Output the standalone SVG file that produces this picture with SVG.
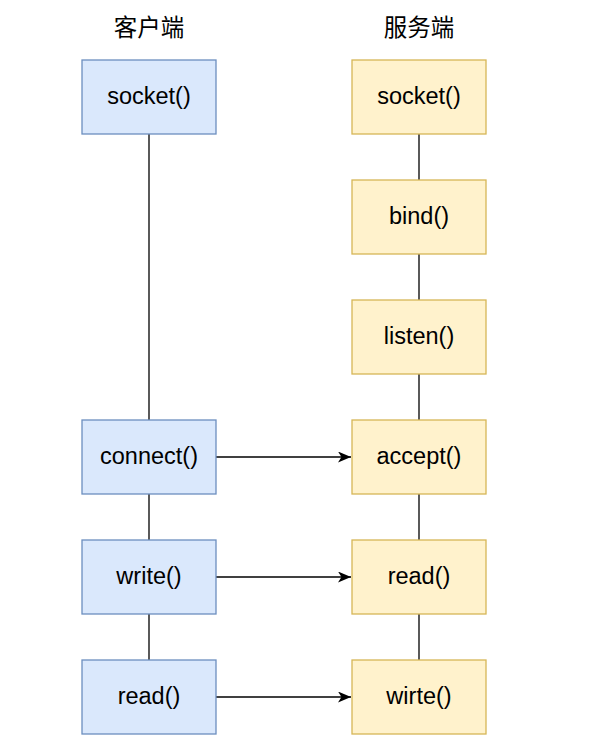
<svg xmlns="http://www.w3.org/2000/svg" width="603" height="751" viewBox="0 0 603 751">
  <style>
    .client rect { fill: #dae8fc; stroke: #6c8ebf; stroke-width: 1.3; }
    .server rect { fill: #fff2cc; stroke: #d6b656; stroke-width: 1.3; }
    text { font-family: "Liberation Sans", Arial, "Noto Sans CJK SC", sans-serif; fill: #000; text-anchor: middle; }
    .label { font-size: 23.5px; }
    .title { font-size: 23.5px; font-family: "Noto Sans CJK SC", "Liberation Sans", sans-serif; }
    .link { stroke: #000; stroke-width: 1.3; fill: none; }
  </style>
  <defs>
    <marker id="arrow" markerUnits="userSpaceOnUse" markerWidth="14" markerHeight="12" refX="13" refY="5.5" orient="auto">
      <path d="M0,0 L13,5.5 L0,11 L3.5,5.5 Z" fill="#000"/>
    </marker>
  </defs>
  <rect width="603" height="751" fill="#ffffff"/>

  <!-- column titles -->
  <text id="title-client" class="title" x="149" y="36">客户端</text>
  <text id="title-server" class="title" x="419" y="36">服务端</text>

  <!-- connectors -->
  <g id="connectors">
    <line class="link" x1="149" y1="134" x2="149" y2="420"/>
    <line class="link" x1="149" y1="494" x2="149" y2="540"/>
    <line class="link" x1="149" y1="614" x2="149" y2="660"/>
    <line class="link" x1="419" y1="134" x2="419" y2="180"/>
    <line class="link" x1="419" y1="254" x2="419" y2="300"/>
    <line class="link" x1="419" y1="374" x2="419" y2="420"/>
    <line class="link" x1="419" y1="494" x2="419" y2="540"/>
    <line class="link" x1="419" y1="614" x2="419" y2="660"/>
    <line class="link" x1="216" y1="457" x2="351" y2="457" marker-end="url(#arrow)"/>
    <line class="link" x1="216" y1="577" x2="351" y2="577" marker-end="url(#arrow)"/>
    <line class="link" x1="216" y1="697" x2="351" y2="697" marker-end="url(#arrow)"/>
  </g>

  <!-- client side -->
  <g id="c-socket" class="client">
    <rect x="82" y="60" width="134" height="74"/>
    <text class="label" x="149" y="104">socket()</text>
  </g>
  <g id="c-connect" class="client">
    <rect x="82" y="420" width="134" height="74"/>
    <text class="label" x="149" y="464">connect()</text>
  </g>
  <g id="c-write" class="client">
    <rect x="82" y="540" width="134" height="74"/>
    <text class="label" x="149" y="584">write()</text>
  </g>
  <g id="c-read" class="client">
    <rect x="82" y="660" width="134" height="74"/>
    <text class="label" x="149" y="704">read()</text>
  </g>

  <!-- server side -->
  <g id="s-socket" class="server">
    <rect x="352" y="60" width="134" height="74"/>
    <text class="label" x="419" y="104">socket()</text>
  </g>
  <g id="s-bind" class="server">
    <rect x="352" y="180" width="134" height="74"/>
    <text class="label" x="419" y="224">bind()</text>
  </g>
  <g id="s-listen" class="server">
    <rect x="352" y="300" width="134" height="74"/>
    <text class="label" x="419" y="344">listen()</text>
  </g>
  <g id="s-accept" class="server">
    <rect x="352" y="420" width="134" height="74"/>
    <text class="label" x="419" y="464">accept()</text>
  </g>
  <g id="s-read" class="server">
    <rect x="352" y="540" width="134" height="74"/>
    <text class="label" x="419" y="584">read()</text>
  </g>
  <g id="s-write" class="server">
    <rect x="352" y="660" width="134" height="74"/>
    <text class="label" x="419" y="704">wirte()</text>
  </g>
</svg>
